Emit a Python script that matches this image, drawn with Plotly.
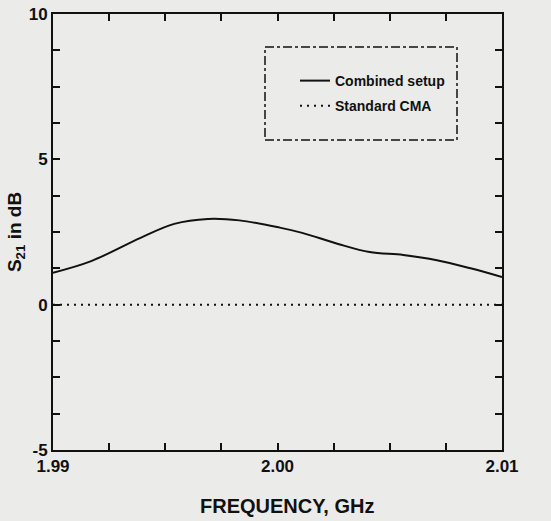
import plotly.graph_objects as go

# Data
freq_combined = [1.9900, 1.9917, 1.9939, 1.9954, 1.9969, 1.9983, 2.0001,
                 2.0011, 2.0027, 2.0041, 2.0056, 2.0071, 2.0086, 2.0100]
s21_combined = [1.10, 1.50, 2.30, 2.78, 2.95, 2.90, 2.65,
                2.47, 2.09, 1.81, 1.71, 1.53, 1.25, 0.95]
freq_standard = [1.9900, 2.0100]
s21_standard = [0.0, 0.0]

x_tick_vals = [1.99, 1.9925, 1.995, 1.9975, 2.00, 2.0025, 2.005, 2.0075, 2.01]
x_tick_text = ["1.99", "", "", "", "2.00", "", "", "", "2.01"]
y_tick_vals = [-5, -3.75, -2.5, -1.25, 0, 1.25, 2.5, 3.75, 5, 6.25, 7.5, 8.75, 10]
y_tick_text = ["-5", "", "", "", "0", "", "", "", "5", "", "", "", "10"]

BG = "#ebebe9"
INK = "#111111"
FONT = "Liberation Sans"

fig = go.Figure()
fig.add_trace(go.Scatter(
    x=freq_combined, y=s21_combined, mode="lines", name="Combined setup",
    line=dict(color=INK, width=2, shape="spline"), legendgroup="a"))
fig.add_trace(go.Scatter(
    x=freq_standard, y=s21_standard, mode="lines", name="Standard CMA",
    line=dict(color=INK, width=2, dash="2px,5px"), legendgroup="b"))

fig.update_layout(
    width=551, height=521,
    margin=dict(l=53, r=49, t=14, b=71),
    paper_bgcolor=BG, plot_bgcolor=BG,
    font=dict(family=FONT, color=INK),
    showlegend=True,
    legend=dict(x=0.539, y=0.883, xanchor="left", yanchor="top",
                bgcolor="rgba(0,0,0,0)", borderwidth=0,
                font=dict(family=FONT, size=14, color=INK, weight="bold"),
                tracegroupgap=4, traceorder="grouped"),
    xaxis=dict(range=[1.99, 2.01], tickvals=x_tick_vals, ticktext=x_tick_text,
               ticks="inside", ticklen=7, tickwidth=1.5, tickcolor=INK,
               showline=True, linecolor=INK, linewidth=2, mirror="ticks",
               showgrid=False, zeroline=False, automargin=False,
               tickfont=dict(family=FONT, size=17, color=INK, weight="bold")),
    yaxis=dict(range=[-5, 10], tickvals=y_tick_vals, ticktext=y_tick_text,
               ticks="inside", ticklen=7, tickwidth=1.5, tickcolor=INK,
               showline=True, linecolor=INK, linewidth=2, mirror="ticks",
               showgrid=False, zeroline=False, automargin=False,
               tickfont=dict(family=FONT, size=17, color=INK, weight="bold"),
               title=dict(text="S<sub>21</sub> in dB", standoff=2,
                          font=dict(family=FONT, size=19, color=INK, weight="bold"))),
    annotations=[dict(text="FREQUENCY, GHz", xref="paper", yref="paper",
                      x=(287 - 53) / 449, y=(450 - 506) / 436,
                      xanchor="center", yanchor="middle", showarrow=False,
                      font=dict(family=FONT, size=20, color=INK, weight="bold"))],
    shapes=[dict(type="rect", xref="paper", yref="paper",
                 x0=(265 - 53) / 449, x1=(457 - 53) / 449,
                 y0=(450 - 140) / 436, y1=(450 - 47) / 436,
                 line=dict(color=INK, width=1.5, dash="dashdot"))],
)

fig.write_html(
    "out.html",
    config={"displayModeBar": False},
    post_script="document.body.style.margin='0';document.body.style.background='" + BG + "';",
)
